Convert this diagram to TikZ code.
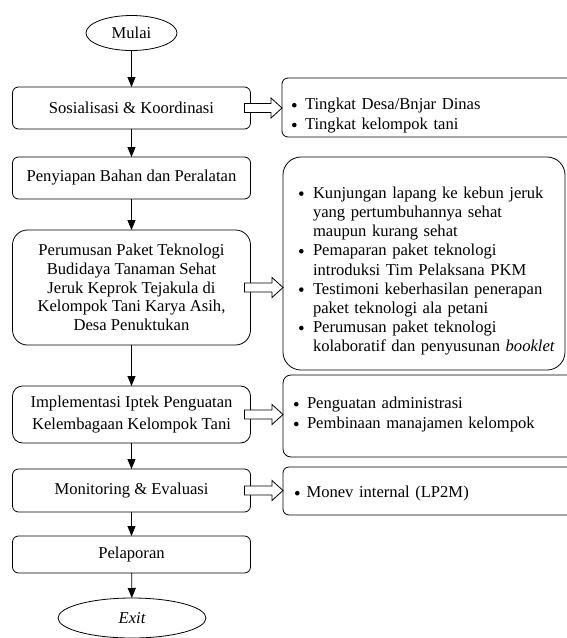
\documentclass[tikz,border=0pt]{standalone}
\usepackage{fontspec}
\setmainfont{Liberation Serif}
\usetikzlibrary{arrows.meta,shapes.geometric,calc}
\newcommand\bigdot{\tikz[baseline=-4.6pt]\fill[black] (0pt,0pt) circle[radius=2.3pt];}
\newcommand\bul[2]{\par\noindent\makebox[#1][l]{\hspace{1pt}\bigdot}#2}
\newcommand\cont[2]{\par\noindent\hspace*{#1}#2}
\newcommand\blockarrow[2]{\draw[barrow] let \p1=(#1.east), \p2=(#2.west) in
  (\x1-6pt,\y1+4.5pt) -- (\x2-11pt,\y1+4.5pt) -- (\x2-11pt,\y1+10pt) -- (\x2,\y1)
  -- (\x2-11pt,\y1-10pt) -- (\x2-11pt,\y1-4.5pt) -- (\x1-6pt,\y1-4.5pt) -- cycle;}
\begin{document}
\begin{tikzpicture}[x=1pt,y=-1pt,
  every node/.style={inner sep=0pt,outer sep=0pt},
  lbox/.style={draw,line width=0.8pt,minimum width=238pt,align=center,
     font=\fontsize{16.6}{19}\selectfont},
  rbox/.style={draw,line width=0.8pt},
  term/.style={draw,ellipse,line width=0.8pt,font=\fontsize{16.6}{19}\selectfont},
  flow/.style={line width=0.8pt,-{Triangle[length=10pt,width=8pt]}},
  barrow/.style={draw,fill=white,line width=0.8pt},
  rtext/.style={anchor=north west,text width=270pt,align=left}]
\clip (0,0) rectangle (567,638);
\fill[white] (0,0) rectangle (567,638);
% left column
\node[term,minimum width=91pt,minimum height=35pt] (mulai) at (131.5,33) {Mulai};
\node[lbox,rounded corners=6pt,minimum height=42pt] (sos) at (131.5,108) {Sosialisasi \& Koordinasi};
\node[lbox,rounded corners=6pt,minimum height=42pt] (peny) at (131.5,178) {Penyiapan Bahan dan Peralatan};
\node[lbox,rounded corners=15pt,minimum height=115pt,font=\fontsize{16.6}{18.7}\selectfont] (perum) at (131.5,287.5)
  {Perumusan Paket Teknologi\\Budidaya Tanaman Sehat\\Jeruk Keprok Tejakula di\\Kelompok Tani Karya Asih,\\Desa Penuktukan};
\node[lbox,rounded corners=10pt,minimum height=57pt,font=\fontsize{16.6}{21.5}\selectfont] (impl) at (131.5,414.5)
  {Implementasi Iptek Penguatan\\Kelembagaan Kelompok Tani};
\node[lbox,rounded corners=6pt,minimum height=43pt] (mon) at (131.5,490.5) {Monitoring \& Evaluasi};
\node[lbox,rounded corners=6pt,minimum height=37pt] (pel) at (131.5,554.5) {Pelaporan};
\node[term,minimum width=148pt,minimum height=40pt] (exit) at (132,618) {\itshape Exit};
\draw[flow] (mulai) -- (sos);
\draw[flow] (sos) -- (peny);
\draw[flow] (peny) -- (perum);
\draw[flow] (perum) -- (impl);
\draw[flow] (impl) -- (mon);
\draw[flow] (mon) -- (pel);
\draw[flow] (pel) -- (exit);
% right column
\node[rbox,rounded corners=6pt,minimum width=298pt,minimum height=59pt] (r1) at (431,107.5) {};
\node[rbox,rounded corners=18pt,minimum width=282pt,minimum height=213pt] (r2) at (424,263.5) {};
\node[rbox,rounded corners=8pt,minimum width=297pt,minimum height=82pt] (r3) at (431.5,416) {};
\node[rbox,rounded corners=6pt,minimum width=297pt,minimum height=48pt] (r4) at (431.5,491) {};
\node[rtext,font=\fontsize{16.6}{19.8}\selectfont] (t1) at (291,90)
  {\bul{14pt}{\rule{0pt}{13pt}Tingkat Desa/Bnjar Dinas}\bul{14pt}{Tingkat kelompok tani}};
\node[rtext,font=\fontsize{16.6}{19.2}\selectfont] (t2) at (298,179)
  {\bul{15pt}{\rule{0pt}{13pt}Kunjungan lapang ke kebun jeruk}%
   \cont{15pt}{yang pertumbuhannya sehat}%
   \cont{15pt}{maupun kurang sehat}%
   \bul{15pt}{Pemaparan paket teknologi}%
   \cont{15pt}{introduksi Tim Pelaksana PKM}%
   \bul{15pt}{Testimoni keberhasilan penerapan}%
   \cont{15pt}{paket teknologi ala petani}%
   \bul{15pt}{Perumusan paket teknologi}%
   \cont{15pt}{kolaboratif dan penyusunan \textit{booklet}}};
\node[rtext,font=\fontsize{16.6}{19.8}\selectfont] (t3) at (293,389)
  {\bul{14pt}{\rule{0pt}{13pt}Penguatan administrasi}\bul{14pt}{Pembinaan manajamen kelompok}};
\node[rtext,font=\fontsize{16.6}{19.8}\selectfont] (t4) at (294,478)
  {\bul{12.5pt}{\rule{0pt}{13pt}Monev internal (LP2M)}};
\blockarrow{sos}{r1}
\blockarrow{perum}{r2}
\blockarrow{impl}{r3}
\blockarrow{mon}{r4}
\end{tikzpicture}
\end{document}
